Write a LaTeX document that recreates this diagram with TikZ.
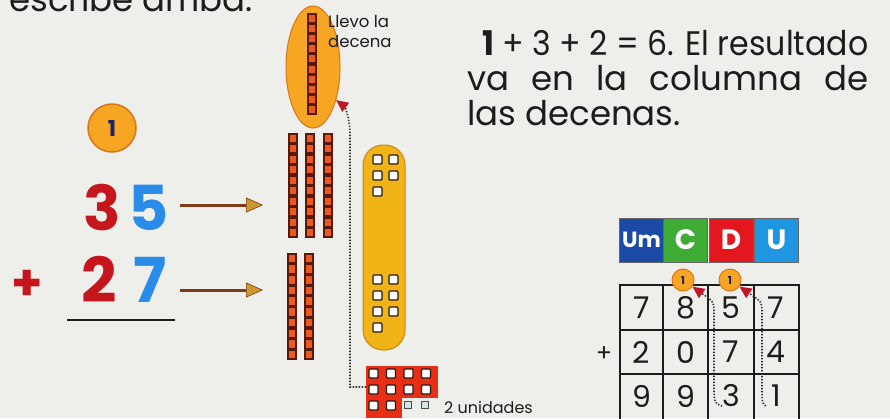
\documentclass[tikz,border=0pt]{standalone}
\usepackage{fontspec}
\usepackage{graphicx}
\setmainfont{Poppins}
\usetikzlibrary{arrows.meta,shapes.geometric,calc}

\definecolor{paper}{RGB}{238,238,235}
\definecolor{ink}{RGB}{28,28,28}
\definecolor{orangefill}{RGB}{246,166,35}
\definecolor{orangeedge}{RGB}{214,118,22}
\definecolor{navy}{RGB}{22,36,110}
\definecolor{numred}{RGB}{196,22,28}
\definecolor{numblue}{RGB}{40,140,232}
\definecolor{shaft}{RGB}{128,58,24}
\definecolor{headgold}{RGB}{204,152,44}
\definecolor{cube}{RGB}{234,90,30}
\definecolor{cubeedge}{RGB}{88,24,10}
\definecolor{unitbar}{RGB}{241,180,22}
\definecolor{unitedge}{RGB}{196,136,24}
\definecolor{unitred}{RGB}{232,46,22}
\definecolor{dotred}{RGB}{196,20,40}
\definecolor{hUm}{RGB}{26,74,166}
\definecolor{hC}{RGB}{62,172,52}
\definecolor{hD}{RGB}{228,22,30}
\definecolor{hU}{RGB}{30,150,226}
\definecolor{emptyhole}{RGB}{214,228,234}

% a ten-rod: left x, top y, height of one cube
\newcommand\tenrod[3]{%
  \fill[cubeedge] (#1,#2) rectangle ++(10,{10*#3});
  \foreach \k in {0,...,9}{\fill[cube] ({#1+2},{#2+\k*#3+1.6}) rectangle ++(6,{#3-3.2});}
}
% a single unit hole
\newcommand\unithole[2]{\draw[holebox] (#1,#2) rectangle ++(9,9);}

\begin{document}
\begin{tikzpicture}[x=1pt,y=-1pt,
  bignum/.style={anchor=base, inner sep=0pt, font=\fontsize{62}{62}\selectfont\bfseries},
  tenarrow/.style={draw=shaft, line width=3pt,
    -{Triangle[length=17pt,width=15pt,fill=headgold,color=shaft,line width=0.6pt]}},
  dotcarry/.style={draw=black!80, line width=1.6pt, dash pattern=on 1.4pt off 1.6pt,
    -{Triangle[length=12pt,width=11pt,fill=dotred,color=dotred]}},
  holebox/.style={fill=white, draw=black!80!brown, line width=1.2pt, rounded corners=1pt},
  carrycirc/.style={circle, fill=orangefill, draw=orangeedge, line width=1pt, inner sep=0pt},
  hdr/.style={minimum width=44pt, minimum height=44pt, inner sep=0pt, draw=black!60,
    line width=0.8pt, text=white, font=\fontsize{28}{28}\selectfont\bfseries},
  cell/.style={inner sep=0pt, font=\fontsize{30}{30}\selectfont, text=ink},
  gridline/.style={draw=ink, line width=1.8pt}
]
\useasboundingbox (0,0) rectangle (890,418);
\clip (0,0) rectangle (890,418);
\fill[paper] (0,0) rectangle (890,418);

% heading line running off the top edge
\node[anchor=base west, inner sep=0pt, text=ink, font=\fontsize{34}{36}\selectfont] (head) at (9,11) {escribe arriba.};

% explanation on the right
\begin{scope}[every node/.style={anchor=base west, inner sep=0pt, text=ink, font=\fontsize{34}{35}\selectfont}]
  \node (l1) at (482,55) {\resizebox{386pt}{\height}{\textbf{1} + 3 + 2 = 6. El resultado}};
  \node (l2) at (467,90) {\makebox[401pt][s]{va en la columna de}};
  \node (l3) at (467,125) {las decenas.};
\end{scope}

% vertical sum with carried ten
\node[carrycirc, minimum size=48pt, line width=1.5pt, text=navy,
      font=\fontsize{22}{22}\selectfont\bfseries] (carry) at (112,128) {1};
\node[bignum, text=numred] (n3) at (102,230) {3};
\node[bignum, text=numblue] (n5) at (149,230) {5};
\node[bignum, text=numred] (n2) at (99,302) {2};
\node[bignum, text=numblue] (n7) at (150,302) {7};
\node[bignum, text=numred, font=\fontsize{50}{50}\selectfont\bfseries] (plus) at (27,300) {+};
\draw[ink, line width=2pt] (67,320) -- (175,320);

% tens rods
\tenrod{288}{133}{10.5}
\tenrod{305}{133}{10.5}
\tenrod{323}{133}{10.5}
\tenrod{287}{253}{10.7}
\tenrod{304}{253}{10.7}
\coordinate (tensA) at (263,205);
\coordinate (tensB) at (263,290);
\draw[tenarrow] (180,205) -- (tensA);
\draw[tenarrow] (180,290) -- (tensB);

% the new ten
\node[ellipse, minimum width=54pt, minimum height=122pt, inner sep=0pt,
      fill=orangefill, draw=orangeedge, line width=1pt] (oval) at (313,67) {};
\tenrod{307}{13}{10.2}
\node[anchor=north west, inner sep=0pt, text=ink, align=left,
      font=\fontsize{16.5}{20}\selectfont] (llevo) at (328,15) {Llevo la\\decena};

% twelve units
\node[rounded corners=20pt, minimum width=42pt, minimum height=205pt, inner sep=0pt,
      fill=unitbar, draw=unitedge, line width=1pt] (ubar) at (384,247.5) {};
\unithole{373}{155}\unithole{389}{155}
\unithole{373}{171}\unithole{389}{171}
\unithole{373}{187}
\unithole{373}{275}\unithole{389}{275}
\unithole{373}{291}\unithole{389}{291}
\unithole{373}{307}\unithole{389}{307}
\unithole{373}{323}

% regrouped units
\fill[unitred] (366,366) rectangle (438,398);
\fill[unitred] (366,398) rectangle (402,418);
\coordinate (ublock) at (366,387);
\foreach \i in {0,...,3}{\foreach \j in {0,1}{\unithole{{369+17.5*\i}}{{369+16*\j}}}}
\unithole{369}{401}\unithole{386.5}{401}
\draw[fill=emptyhole, draw=black!70, line width=1pt] (404,401) rectangle ++(7,7);
\draw[fill=emptyhole, draw=black!70, line width=1pt] (421,401) rectangle ++(7,7);
\node[anchor=base west, inner sep=0pt, text=ink, font=\fontsize{16}{16}\selectfont] (dosu) at (444,413) {2 unidades};

\draw[dotcarry] (ublock) -- (350,387) -- (350,135) .. controls (350,116) and (344,106) .. (oval.-55);

% place-value table
\node[hdr, fill=hUm, font=\fontsize{22}{22}\selectfont\bfseries] (hum) at (641.5,240) {Um};
\node[hdr, fill=hC] (hc) at (685.5,240) {C};
\node[hdr, fill=hD] (hd) at (731,240) {D};
\node[hdr, fill=hU] (hu) at (776.5,240) {U};

\draw[gridline] (620,285) rectangle (799,430);
\draw[gridline] (663,285) -- (663,430);
\draw[gridline] (708,285) -- (708,430);
\draw[gridline] (754,285) -- (754,430);
\draw[gridline] (620,330) -- (799,330);
\draw[gridline] (620,374) -- (799,374);

\foreach \d [count=\c] in {7,8,5,7}{\node[cell] (a\c) at ({641.5+44.8*(\c-1)},308) {\d};}
\foreach \d [count=\c] in {2,0,7,4}{\node[cell] (b\c) at ({641.5+44.8*(\c-1)},352) {\d};}
\foreach \d [count=\c] in {9,9,3,1}{\node[cell] (r\c) at ({641.5+44.8*(\c-1)},396) {\d};}
\node[cell, font=\fontsize{24}{24}\selectfont] (tplus) at (604,354) {+};

\node[carrycirc, minimum size=22pt, text=navy, font=\fontsize{11}{11}\selectfont\bfseries] (cC) at (683,280) {1};
\node[carrycirc, minimum size=22pt, text=navy, font=\fontsize{11}{11}\selectfont\bfseries] (cD) at (730,280) {1};

\draw[dotcarry] ($(r3.center)+(-9,10)$) .. controls (714,403) .. (714,385) -- (714,312)
  .. controls (714,302) .. (cC.-35);
\draw[dotcarry] ($(r4.center)+(-10,10)$) .. controls (762,403) .. (762,385) -- (762,312)
  .. controls (762,302) .. (cD.-35);
\end{tikzpicture}
\end{document}
